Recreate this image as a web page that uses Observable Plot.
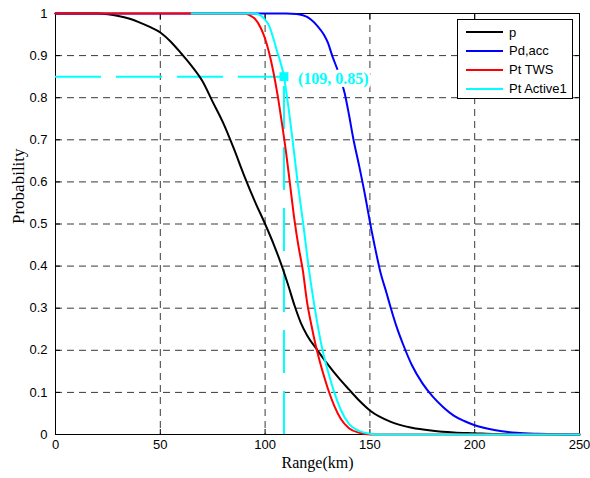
<!DOCTYPE html>
<html>
<head>
<meta charset="utf-8">
<script src="https://cdn.jsdelivr.net/npm/d3@7"></script>
<script src="https://cdn.jsdelivr.net/npm/@observablehq/plot@0.6"></script>
<style>
  html, body { margin: 0; padding: 0; background: #fff; }
  #wrap { position: relative; width: 590px; height: 478px; }
  #legend { position: absolute; left: 457px; top: 19px; width: 114px; height: 78px;
    border: 1px solid #000; background: #fff; font-family: "Liberation Sans", Arial, sans-serif; font-size: 13px; }
  .row { position: absolute; left: 0; height: 18px; display: flex; align-items: center; }
  .sw { width: 37px; height: 2px; margin-left: 8px; margin-right: 6px; }
</style>
</head>
<body>
<div id="wrap"></div>
<script>
// ---- data ----
const seriesNames = ["p", "Pd,acc", "Pt TWS", "Pt Active1"];
const seriesColors = ["#000000", "#0000ff", "#ff0000", "#00ffff"];

const pRange = [0,10,20,25,30,35,40,45,50,55,60,65,70,75,80,85,90,95,100,104,108,111,114,117,120,125,130,135,140,145,150,160,170,180,190,200,210,220,250];
const pProb  = [1,1,1,0.998,0.994,0.988,0.979,0.968,0.955,0.933,0.905,0.875,0.84,0.79,0.74,0.68,0.615,0.555,0.5,0.453,0.4,0.355,0.307,0.266,0.236,0.2,0.166,0.135,0.107,0.08,0.057,0.03,0.016,0.009,0.005,0.003,0.001,0.0005,0];

const pdRange = [0,110,115,118,120,122,125,128,130,132,135,138,140,142,145,148,150,152,155,158,160,163,166,170,175,180,185,190,195,200,210,220,230,240,250];
const pdProb  = [1,1,0.999,0.996,0.992,0.985,0.97,0.95,0.93,0.9,0.86,0.81,0.76,0.705,0.635,0.56,0.505,0.455,0.386,0.335,0.3,0.252,0.212,0.165,0.122,0.09,0.065,0.045,0.032,0.022,0.01,0.004,0.0015,0.0003,0];

const twsRange = [0,90,93,95,98,100,102,104,106,108,110,112,114,116,118,120,122,124,126,128,130,133,136,140,145,150,250];
const twsProb  = [1,1,0.995,0.988,0.965,0.94,0.905,0.86,0.805,0.74,0.67,0.59,0.51,0.445,0.39,0.315,0.262,0.215,0.175,0.14,0.108,0.068,0.038,0.015,0.004,0,0];

const actRange = [65,95,98,100,102,104,106,107,109,110.5,113.1,115.5,118.2,120.7,123.7,127.4,130,133,136,140,145,150,155,250];
const actProb  = [1,1,0.995,0.985,0.97,0.94,0.905,0.89,0.85,0.8,0.7,0.6,0.5,0.4,0.3,0.2,0.15,0.1,0.06,0.025,0.008,0.002,0,0];

const markPoint = [109, 0.85];
const markLabel = "(109, 0.85)";

const xTicks = [0, 50, 100, 150, 200, 250];
const yTicks = [0, 0.1, 0.2, 0.3, 0.4, 0.5, 0.6, 0.7, 0.8, 0.9, 1];
const yTickLabels = ["0","0.1","0.2","0.3","0.4","0.5","0.6","0.7","0.8","0.9","1"];
const xLabel = "Range(km)";
const yLabel = "Probability";

// ---- build ----
const toRows = (xs, ys, name) => xs.map((x, i) => ({range: x, prob: ys[i], name}));
const allSeries = [
  toRows(pRange, pProb, seriesNames[0]),
  toRows(pdRange, pdProb, seriesNames[1]),
  toRows(twsRange, twsProb, seriesNames[2]),
  toRows(actRange, actProb, seriesNames[3])
];
const pointData = [{range: markPoint[0], prob: markPoint[1]}];

const sans = "'Liberation Sans', Arial, sans-serif";
const serif = "'Liberation Serif', 'Times New Roman', serif";
const gridStyle = {stroke: "#3a3a3a", strokeOpacity: 1, strokeWidth: 1, strokeDasharray: "7,5"};

const chart = Plot.plot({
  width: 590,
  height: 478,
  marginLeft: 55,
  marginRight: 11,
  marginTop: 13,
  marginBottom: 44,
  style: {fontFamily: sans, fontSize: "13px", background: "#fff", color: "#000"},
  x: {domain: [0, 250], nice: false},
  y: {domain: [0, 1], nice: false},
  marks: [
    Plot.gridX(xTicks, gridStyle),
    Plot.gridY(yTicks, gridStyle),
    // frame
    Plot.frame({stroke: "#000", strokeWidth: 1}),
    // inward ticks
    Plot.axisX(xTicks, {anchor: "bottom", tickSize: 5, dy: -5, fill: "none", label: null}),
    Plot.axisX(xTicks, {anchor: "top", tickSize: 5, dy: 5, fill: "none", label: null}),
    Plot.axisY(yTicks, {anchor: "left", tickSize: 5, dx: 5, fill: "none", label: null}),
    Plot.axisY(yTicks, {anchor: "right", tickSize: 5, dx: -5, fill: "none", label: null}),
    // annotation guide lines
    Plot.ruleY(pointData, {y: "prob", x1: 0, x2: "range", stroke: "#00ffff", strokeWidth: 2, strokeDasharray: "46,15"}),
    Plot.ruleX(pointData, {x: "range", y1: 0, y2: "prob", stroke: "#00ffff", strokeWidth: 2, strokeDasharray: "43,18"}),
    // curves
    ...allSeries.map((rows, i) => Plot.line(rows, {x: "range", y: "prob", stroke: seriesColors[i], strokeWidth: 2, curve: "monotone-x"})),
    // marker and label
    Plot.dot(pointData, {x: "range", y: "prob", symbol: "square", r: 5, fill: "#00ffff", stroke: "none"}),
    Plot.text(pointData, {x: "range", y: "prob", text: () => markLabel, dx: 14, dy: 2, textAnchor: "start",
      fill: "#00ffff", stroke: "#fff", strokeWidth: 7, fontFamily: serif, fontWeight: "bold", fontSize: 16}),
    // tick labels
    Plot.axisX(xTicks, {anchor: "bottom", tickSize: 0, tickPadding: 5, label: null, fontSize: 13, fontFamily: sans}),
    Plot.axisY(yTicks, {anchor: "left", tickSize: 0, tickPadding: 8, label: null, fontSize: 13, fontFamily: sans,
      tickFormat: (d) => yTickLabels[yTicks.indexOf(d)]}),
    // axis titles
    Plot.text([xLabel], {frameAnchor: "bottom", dy: 33, fontFamily: serif, fontSize: 16, fill: "#000"}),
    Plot.text([yLabel], {frameAnchor: "left", dx: -37, rotate: -90, fontFamily: serif, fontSize: 17, fill: "#000"})
  ]
});

const wrap = document.getElementById("wrap");
wrap.appendChild(chart);

// legend overlay
const legend = document.createElement("div");
legend.id = "legend";
seriesNames.forEach((name, i) => {
  const row = document.createElement("div");
  row.className = "row";
  row.style.top = (3 + i * 18.9) + "px";
  const sw = document.createElement("div");
  sw.className = "sw";
  sw.style.background = seriesColors[i];
  const label = document.createElement("span");
  label.textContent = name;
  row.appendChild(sw);
  row.appendChild(label);
  legend.appendChild(row);
});
wrap.appendChild(legend);
</script>
</body>
</html>
